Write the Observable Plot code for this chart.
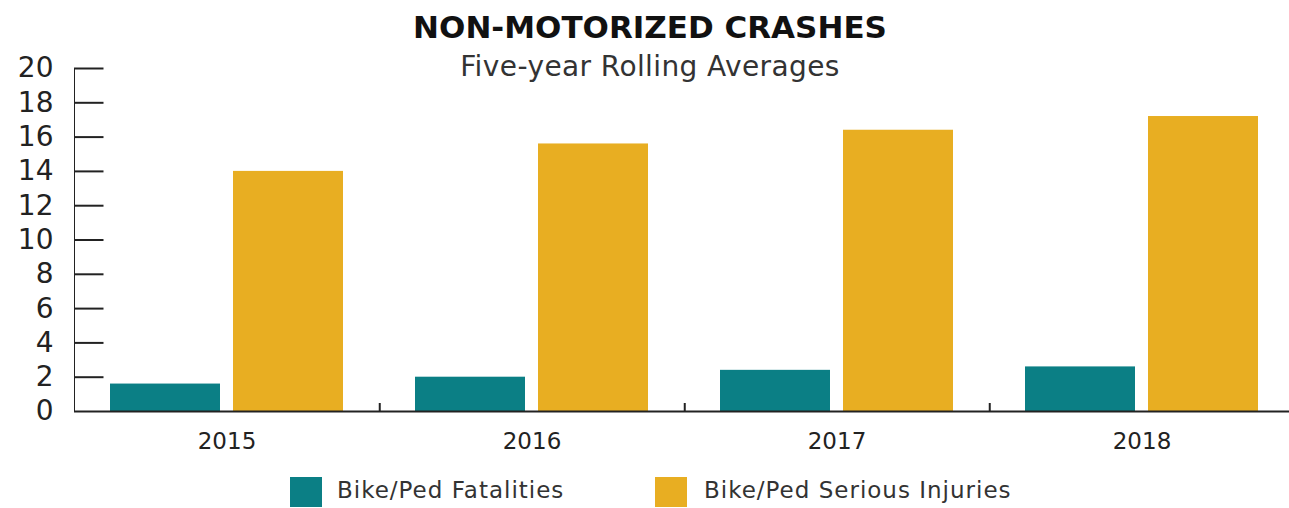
<!DOCTYPE html>
<html><head><meta charset="utf-8">
<script src="https://cdn.jsdelivr.net/npm/d3@7"></script>
<script src="https://cdn.jsdelivr.net/npm/@observablehq/plot@0.6"></script>
<style>
body{margin:0;background:#fff;font-family:"DejaVu Sans",sans-serif;}
#wrap{position:relative;width:1289px;height:508px;overflow:hidden;}
#chart{position:absolute;left:0;top:0;}
#title{position:absolute;left:650px;top:9px;transform:translateX(-50%);font-weight:bold;font-size:31px;line-height:36px;white-space:nowrap;color:#111;}
#subtitle{position:absolute;left:650px;top:51px;transform:translateX(-50%);font-size:28px;line-height:32px;letter-spacing:0.4px;white-space:nowrap;color:#333;}
#legend{position:absolute;left:0;top:476px;width:1289px;height:32px;}
.sw{position:absolute;top:1px;width:32px;height:30px;}
.lt{position:absolute;top:0px;font-size:23px;line-height:29px;letter-spacing:1px;color:#333;white-space:nowrap;}
g[aria-label="fx-axis tick label"]{font-size:23px;}
g[aria-label="y-axis tick label"]{font-size:28px;}
</style>
</head><body>
<div id="wrap">
<div id="chart"></div>
<div id="title">NON-MOTORIZED CRASHES</div>
<div id="subtitle">Five-year Rolling Averages</div>
<div id="legend"></div>
</div>
<script>
const years = ["2015", "2016", "2017", "2018"];
const seriesNames = ["Bike/Ped Fatalities", "Bike/Ped Serious Injuries"];
const fatalities = [1.6, 2.0, 2.4, 2.6];
const seriousInjuries = [14.0, 15.6, 16.4, 17.2];
const yTicks = [0, 2, 4, 6, 8, 10, 12, 14, 16, 18, 20];
const colors = ["#0b7f85", "#e8ae22"];

const data = years.flatMap((yr, i) => [
  {year: yr, series: seriesNames[0], value: fatalities[i]},
  {year: yr, series: seriesNames[1], value: seriousInjuries[i]}
]);

const facetWidth = (1295 - 73) / years.length;

const chart = Plot.plot({
  width: 1289,
  height: 508,
  marginTop: 68,
  marginBottom: 97,
  marginLeft: 73,
  marginRight: 0,
  style: {fontFamily: "DejaVu Sans, sans-serif", background: "transparent", color: "#222", overflow: "visible"},
  fx: {domain: years, range: [73, 1295], padding: 0, axis: "bottom", tickSize: 0, tickPadding: 21, label: null},
  x: {domain: seriesNames, paddingInner: 0.106, paddingOuter: 0.29, axis: null},
  y: {domain: [0, 20], ticks: yTicks, tickSize: 0, tickPadding: 21, line: true, label: null, tickFormat: d => String(d)},
  color: {domain: seriesNames, range: colors},
  marks: [
    Plot.barY(data, {fx: "year", x: "series", y: "value", fill: "series"}),
    Plot.ruleY(yTicks.slice(1), {y: d => d, fx: () => years[0], insetRight: facetWidth - 30, stroke: "#222", strokeWidth: 2}),
    Plot.ruleY([0], {stroke: "#222", strokeWidth: 2}),
    Plot.ruleX(years.slice(0, 3), {x: null, fx: d => d, dx: facetWidth / 2, insetTop: 335, stroke: "#222", strokeWidth: 2})
  ]
});
document.getElementById("chart").appendChild(chart);

// legend
const legend = document.getElementById("legend");
const swX = [290, 655];
const txX = [337, 704];
seriesNames.forEach((name, i) => {
  const sw = document.createElement("div");
  sw.className = "sw";
  sw.style.left = swX[i] + "px";
  sw.style.background = colors[i];
  legend.appendChild(sw);
  const t = document.createElement("div");
  t.className = "lt";
  t.style.left = txX[i] + "px";
  t.textContent = name;
  legend.appendChild(t);
});
</script>
</body></html>
